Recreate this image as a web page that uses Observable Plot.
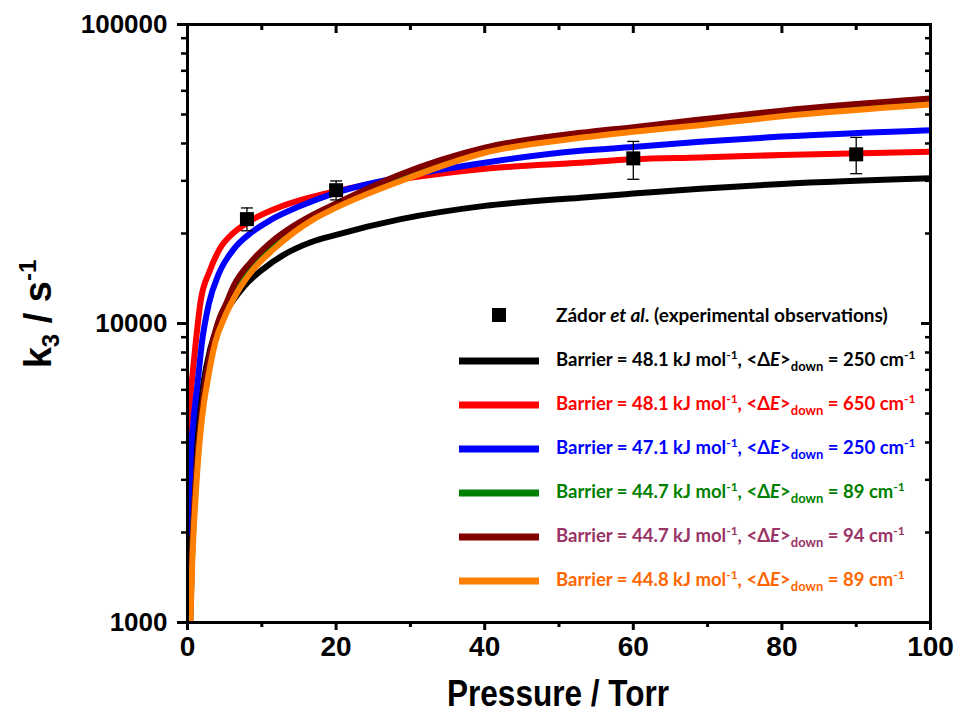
<!DOCTYPE html>
<html><head><meta charset="utf-8">
<script src="https://cdn.jsdelivr.net/npm/d3@7"></script>
<script src="https://cdn.jsdelivr.net/npm/@observablehq/plot@0.6"></script>
<style>
body{margin:0;background:#fff}
svg{display:block}
</style>
</head><body><div id="chart"></div>
<script>
// ---- data ----
const seriesNames = ["b481_250", "b481_650", "b471_250", "b447_89", "b447_94", "b448_89"];
const seriesColors = ["#000000", "#ff0000", "#0000ff", "#008000", "#800000", "#ff8000"];
const legendTextColors = ["#000000", "#ff0000", "#0000ff", "#008000", "#993366", "#ff6600"];
const barriers = ["48.1", "48.1", "47.1", "44.7", "44.7", "44.8"];
const deltaEdown = ["250", "650", "250", "89", "94", "89"];

const pBlack = [0.3, 0.5, 0.85, 1.3, 2.06, 3.1, 4.2, 5.1, 6.2, 7.6, 10.3, 13, 16.6, 20, 28.7, 40, 52.9, 60, 69, 80, 100];
const kBlack = [1000, 1650, 2800, 4200, 6130, 8300, 9900, 10900, 12000, 13300, 15300, 17000, 18700, 19800, 22340, 24740, 26360, 27190, 28250, 29300, 30600];

const pRed = [0.05, 0.1, 0.25, 0.5, 1.08, 1.75, 3.0, 4.3, 6.1, 8, 12, 16, 20, 26, 28.7, 40, 52.9, 60, 69, 80, 100];
const kRed = [3600, 4400, 5200, 6100, 8500, 11800, 15000, 17700, 20000, 21700, 24300, 26200, 27700, 29700, 30400, 32930, 34500, 35400, 35900, 36600, 37520];

const pBlue = [0.1, 0.18, 0.4, 0.85, 1.3, 1.98, 2.87, 4.2, 6.23, 8.6, 11.2, 15, 20, 28.7, 40, 52.9, 60, 69, 80, 100];
const kBlue = [2000, 2260, 3410, 4870, 6130, 8776, 11630, 14650, 17730, 20150, 22200, 24600, 27400, 30900, 34500, 37800, 38900, 40530, 42200, 44330];

const pGreen = [0.36, 0.6, 1.0, 1.5, 2.28, 3.3, 4.44, 5.1, 6.23, 8.5, 11.2, 14.3, 16.6, 20, 28.7, 40, 52.9, 60, 69, 80, 100];
const kGreen = [1000, 1620, 2660, 3920, 5950, 8300, 10450, 11300, 13100, 15700, 18300, 20800, 22600, 24900, 31000, 38100, 42800, 44800, 47400, 50800, 55700];

const pMaroon = [0.35, 0.6, 1.0, 1.5, 2.28, 3.3, 4.44, 5.1, 6.23, 8.5, 11.2, 14.3, 16.6, 20, 28.7, 40, 52.9, 60, 69, 80, 100];
const kMaroon = [1000, 1650, 2700, 4000, 6130, 8500, 10630, 11500, 13390, 16020, 18660, 21210, 22900, 25200, 31550, 38700, 43420, 45370, 48110, 51500, 56530];

const pOrange = [0.4, 0.63, 1.08, 1.52, 2.2, 2.65, 3.1, 3.77, 4.9, 6.7, 8.9, 11.6, 14.3, 17, 20, 28.7, 40, 52.9, 60, 69, 80, 100];
const kOrange = [1000, 1560, 2600, 3750, 5400, 6300, 7300, 8700, 10370, 12720, 15220, 17730, 20150, 22340, 24400, 29970, 37240, 41780, 43750, 46060, 49300, 53980];

const expP = [8, 20, 60, 90];
const expK = [22340, 27910, 35670, 36790];
const expLo = [20420, 25900, 30360, 31700];
const expHi = [24350, 29970, 40640, 41920];

const xMajor = [0, 20, 40, 60, 80, 100];
const xMinor = [10, 30, 50, 70, 90];
const yMajor = [1000, 10000, 100000];
const yMinor = [2000, 3000, 4000, 5000, 6000, 7000, 8000, 9000, 20000, 30000, 40000, 50000, 60000, 70000, 80000, 90000];

// ---- build tables ----
const seriesP = [pBlack, pRed, pBlue, pGreen, pMaroon, pOrange];
const seriesK = [kBlack, kRed, kBlue, kGreen, kMaroon, kOrange];
const curves = [];
seriesNames.forEach((s, i) => seriesP[i].forEach((p, j) => curves.push({series: s, P: p, k: seriesK[i][j]})));
const exp = expP.map((p, i) => ({P: p, k: expK[i], lo: expLo[i], hi: expHi[i]}));

const capSymbol = {draw(ctx, size) { const w = Math.sqrt(size / Math.PI); ctx.moveTo(-w, 0); ctx.lineTo(w, 0); }};

const wide = "'Liberation Sans', Arial, sans-serif";

const blank = () => "";
const plot = Plot.plot({
  width: 954, height: 715,
  marginLeft: 187, marginRight: 24, marginTop: 24, marginBottom: 93,
  style: {background: "#fff", color: "#000"},
  x: {domain: [0, 100], label: null},
  y: {type: "log", domain: [1000, 100000], label: null},
  color: {domain: seriesNames, range: seriesColors},
  marks: [
    Plot.line(curves, {x: "P", y: "k", z: "series", stroke: "series", strokeWidth: 6, curve: "monotone-x", clip: true}),
    Plot.ruleX(exp, {x: "P", y1: "lo", y2: "hi", stroke: "#000", strokeWidth: 1.3}),
    Plot.dot(exp, {x: "P", y: "lo", symbol: capSymbol, r: 6, stroke: "#000", strokeWidth: 1.3}),
    Plot.dot(exp, {x: "P", y: "hi", symbol: capSymbol, r: 6, stroke: "#000", strokeWidth: 1.3}),
    Plot.dot(exp, {x: "P", y: "k", symbol: "square", r: 7.9, fill: "#000", stroke: null}),
    Plot.axisY({anchor: "left", ticks: yMajor, tickSize: 10, tickPadding: 10, tickFormat: d3.format("d"), strokeWidth: 3, fontSize: 26, fontWeight: "bold", fontFamily: wide, label: null}),
    Plot.axisY({anchor: "left", ticks: yMinor, tickSize: 6, tickFormat: blank, strokeWidth: 2.5, label: null}),
    Plot.axisY({anchor: "right", ticks: yMajor, tickSize: -10, tickFormat: blank, strokeWidth: 3, label: null}),
    Plot.axisY({anchor: "right", ticks: yMinor, tickSize: -6, tickFormat: blank, strokeWidth: 2.5, label: null}),
    Plot.axisX({anchor: "bottom", ticks: xMajor, tickSize: 8, tickPadding: 6, tickFormat: d3.format("d"), strokeWidth: 3, fontSize: 28, fontWeight: "bold", fontFamily: wide, label: null, ariaLabel: "x-ticklabels"}),
    Plot.axisX({anchor: "bottom", ticks: xMinor, tickSize: 5, tickFormat: blank, strokeWidth: 3, label: null}),
    Plot.axisX({anchor: "top", ticks: xMajor, tickSize: -8, tickFormat: blank, strokeWidth: 3, label: null}),
    Plot.axisX({anchor: "top", ticks: xMinor, tickSize: -5, tickFormat: blank, strokeWidth: 3, label: null}),
    Plot.frame({stroke: "#000", strokeWidth: 3})
  ]
});
document.getElementById("chart").appendChild(plot);

const svg = d3.select(plot);
// condense the x tick labels (reference uses a narrow bold face)
svg.selectAll("g[aria-label='x-axis tick label'] text, g[aria-label='x-ticklabels'] text").each(function() {
  const len = this.getComputedTextLength();
  if (len > 0) { this.setAttribute("textLength", len * 0.84); this.setAttribute("lengthAdjust", "spacingAndGlyphs"); }
});

// ---- titles & legend ----
svg.append("text").attr("x", 558).attr("y", 706).attr("text-anchor", "middle")
  .attr("font-family", wide).attr("font-weight", "bold").attr("font-size", 37).attr("fill", "#000")
  .attr("textLength", 222).attr("lengthAdjust", "spacingAndGlyphs")
  .text("Pressure / Torr");
const yt = svg.append("text").attr("transform", "translate(51,314) rotate(-90)").attr("text-anchor", "middle")
  .attr("font-family", wide).attr("font-weight", "bold").attr("font-size", 38).attr("fill", "#000");
yt.append("tspan").text("k");
yt.append("tspan").attr("font-size", 24).attr("dy", 8).text("3");
yt.append("tspan").attr("dy", -8).text(" / s");
yt.append("tspan").attr("font-size", 24).attr("dy", -15).text("-1");

const lf = "Lato, 'Open Sans', sans-serif";
const lg = svg.append("g").attr("font-family", lf).attr("font-weight", "bold").attr("font-size", 18.5).attr("text-anchor", "start");
lg.append("rect").attr("x", 492).attr("y", 308).attr("width", 14).attr("height", 14).attr("fill", "#000");
const t0 = lg.append("text").attr("x", 556).attr("y", 322).attr("fill", "#000").attr("font-size", 19);
t0.append("tspan").text("Zádor ");
t0.append("tspan").attr("font-style", "italic").text("et al");
t0.append("tspan").text(". (experimental observations)");
const rowY = [361, 405, 449, 493, 537, 581];
seriesNames.forEach((s, i) => {
  lg.append("line").attr("x1", 459).attr("x2", 539).attr("y1", rowY[i]).attr("y2", rowY[i])
    .attr("stroke", seriesColors[i]).attr("stroke-width", 7);
  const t = lg.append("text").attr("x", 556).attr("y", rowY[i] + 5).attr("fill", legendTextColors[i]);
  t.append("tspan").text(`Barrier = ${barriers[i]} kJ mol`);
  t.append("tspan").attr("font-size", 12).attr("dy", -7).text("-1");
  t.append("tspan").attr("font-size", 18.5).attr("dy", 7).text(", <Δ");
  t.append("tspan").attr("font-style", "italic").text("E");
  t.append("tspan").text(">");
  t.append("tspan").attr("font-size", 13).attr("dy", 5).text("down");
  t.append("tspan").attr("font-size", 18.5).attr("dy", -5).text(` = ${deltaEdown[i]} cm`);
  t.append("tspan").attr("font-size", 12).attr("dy", -7).text("-1");
});
</script>
</body></html>
